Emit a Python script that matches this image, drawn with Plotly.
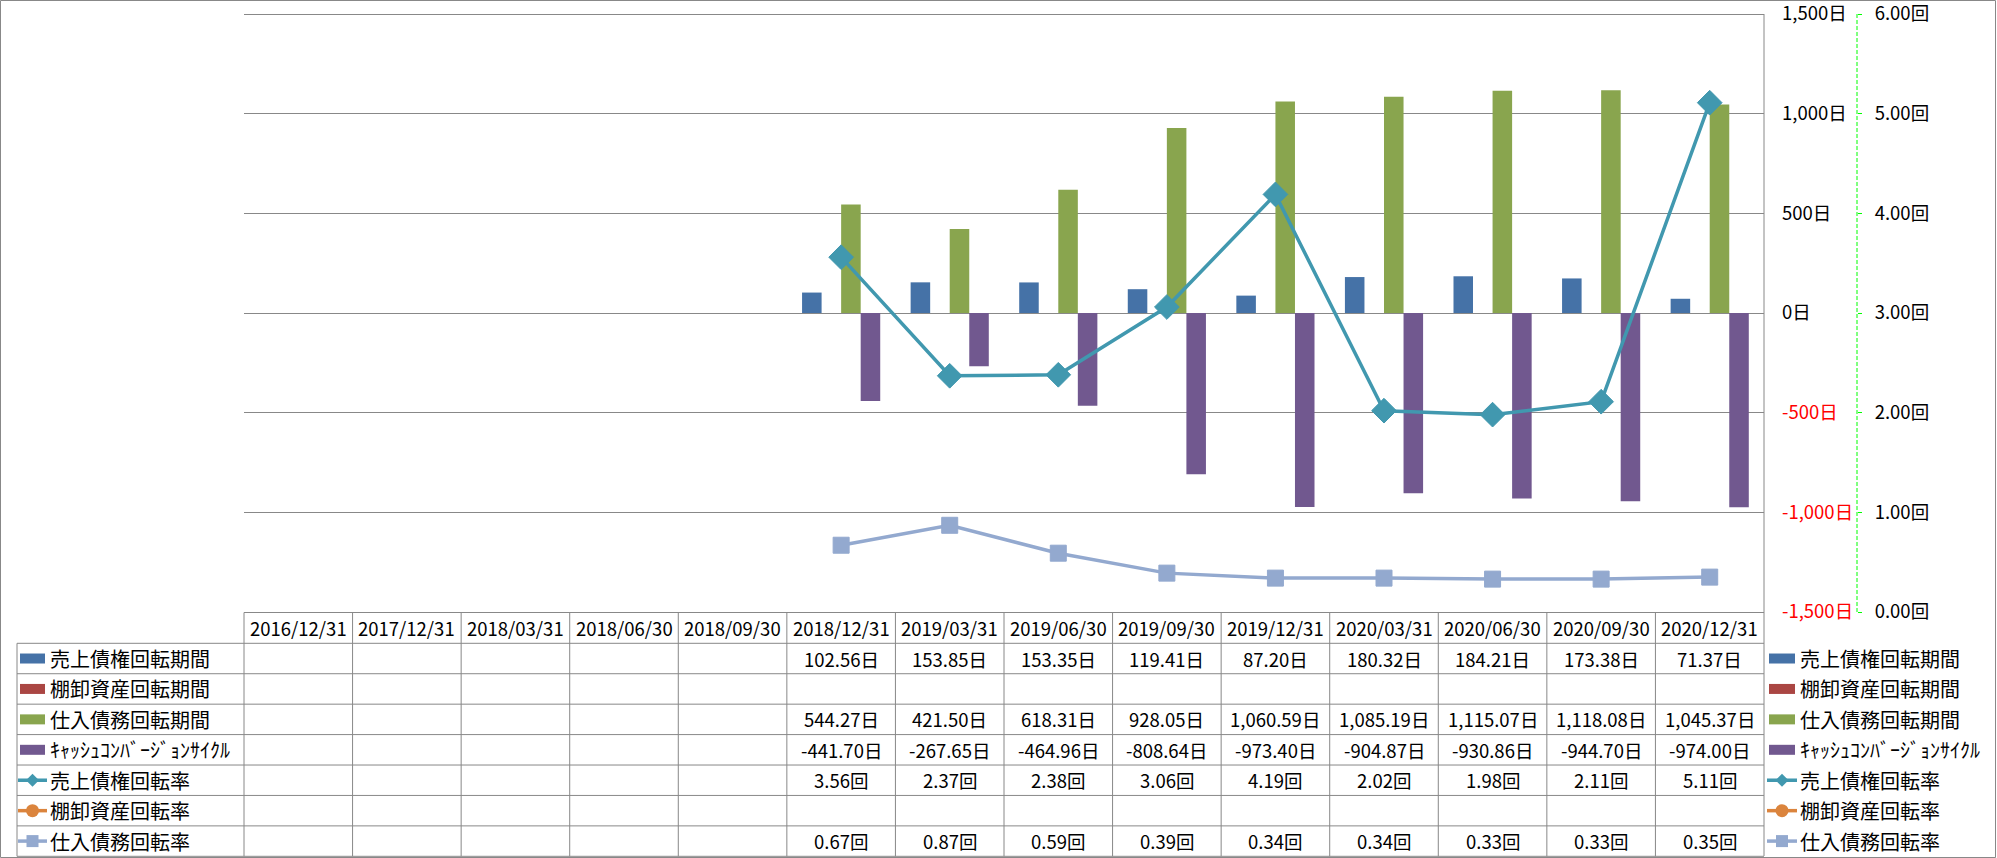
import plotly.graph_objects as go

W, H = 1997, 858
FONT = "Noto Sans CJK JP"

# ---------------- data ----------------
categories = ["2016/12/31", "2017/12/31", "2018/03/31", "2018/06/30", "2018/09/30",
              "2018/12/31", "2019/03/31", "2019/06/30", "2019/09/30", "2019/12/31",
              "2020/03/31", "2020/06/30", "2020/09/30", "2020/12/31"]
N = None
receivable_days = [N, N, N, N, N, 102.56, 153.85, 153.35, 119.41, 87.20, 180.32, 184.21, 173.38, 71.37]
inventory_days = [N] * 14
payable_days = [N, N, N, N, N, 544.27, 421.50, 618.31, 928.05, 1060.59, 1085.19, 1115.07, 1118.08, 1045.37]
ccc_days = [N, N, N, N, N, -441.70, -267.65, -464.96, -808.64, -973.40, -904.87, -930.86, -944.70, -974.00]
receivable_turnover = [N, N, N, N, N, 3.56, 2.37, 2.38, 3.06, 4.19, 2.02, 1.98, 2.11, 5.11]
inventory_turnover = [N] * 14
payable_turnover = [N, N, N, N, N, 0.67, 0.87, 0.59, 0.39, 0.34, 0.34, 0.33, 0.33, 0.35]

day_ticks = [-1500, -1000, -500, 0, 500, 1000, 1500]
rate_ticks = [0, 1, 2, 3, 4, 5, 6]

series = [
    dict(name="売上債権回転期間", values=receivable_days, kind="bar", color="#4572A7", unit="日"),
    dict(name="棚卸資産回転期間", values=inventory_days, kind="bar", color="#AA4643", unit="日"),
    dict(name="仕入債務回転期間", values=payable_days, kind="bar", color="#89A54E", unit="日"),
    dict(name="ｷｬｯｼｭｺﾝﾊﾞｰｼﾞｮﾝｻｲｸﾙ", values=ccc_days, kind="bar", color="#71588F", unit="日"),
    dict(name="売上債権回転率", values=receivable_turnover, kind="line", color="#4198AF",
         symbol="diamond", unit="回"),
    dict(name="棚卸資産回転率", values=inventory_turnover, kind="line", color="#DB843D",
         symbol="circle", unit="回"),
    dict(name="仕入債務回転率", values=payable_turnover, kind="line", color="#93A9CF",
         symbol="square", unit="回"),
]

# ---------------- geometry (pixels) ----------------
PLOT_L, PLOT_R, PLOT_T, PLOT_B = 244, 1764, 14, 612
AXIS2_X = 1857
HEAD_T, HEAD_B = 612.5, 643.3
ROW_H = 30.43
LABEL_L = 17
GRID = "#888888"
BAR_W = 0.18
bar_offsets = [-0.36, -0.18, 0.0, 0.18]
NUM_SIZE = 18.5
JP_SIZE = 20
D_MIN, D_MAX = day_ticks[0], day_ticks[-1]
R_MIN, R_MAX = rate_ticks[0], rate_ticks[-1]
PAD_PX = 3.0    # extra pixels beyond the end ticks so they are not clipped
PPD = (PLOT_B - PLOT_T) / (D_MAX - D_MIN)
EPS_D = PAD_PX / PPD
EPS_R = EPS_D * (R_MAX - R_MIN) / (D_MAX - D_MIN)


def fx(x):
    return x / W


def fy(y):
    return 1 - y / H


fig = go.Figure()

bi = 0
for s in series:
    if s["kind"] == "bar":
        fig.add_trace(go.Bar(
            x=categories, y=s["values"], name=s["name"], marker_color=s["color"],
            marker_line_width=0, width=BAR_W, offset=bar_offsets[bi],
            showlegend=False, xaxis="x", yaxis="y"))
        bi += 1
for s in series:
    if s["kind"] == "line":
        big = s["symbol"] == "diamond"
        fig.add_trace(go.Scatter(
            x=categories, y=s["values"], name=s["name"], mode="lines+markers",
            line=dict(color=s["color"], width=3.5),
            marker=dict(symbol=s["symbol"], size=19 if big else 16, color=s["color"],
                        line=dict(width=1, color=s["color"])),
            connectgaps=False, showlegend=False, xaxis="x", yaxis="y2"))


def day_label(v):
    t = f"{v:,}日"
    if v < 0:
        return f'<span style="color:#FF0000">{t}</span>'
    return t


shapes = []
annotations = []

# outer border
shapes.append(dict(type="rect", xref="paper", yref="paper", x0=fx(0.5), x1=fx(W - 1.5),
                   y0=fy(0.5), y1=fy(H - 0.5), line=dict(color=GRID, width=1)))
# right border of plot + table
shapes.append(dict(type="line", xref="paper", yref="paper", x0=fx(PLOT_R), x1=fx(PLOT_R),
                   y0=fy(PLOT_T), y1=fy(856), line=dict(color=GRID, width=1)))
# secondary axis dashed line
shapes.append(dict(type="line", xref="paper", yref="paper", x0=fx(AXIS2_X), x1=fx(AXIS2_X),
                   y0=fy(PLOT_T), y1=fy(PLOT_B), line=dict(color="#00FF00", width=1, dash="4px,2px")))

ncol = len(categories)
colw = (PLOT_R - PLOT_L) / ncol
nrows = len(series)
TABLE_B = HEAD_B + nrows * ROW_H

# table horizontal lines
shapes.append(dict(type="line", xref="paper", yref="paper", x0=fx(PLOT_L), x1=fx(PLOT_R),
                   y0=fy(HEAD_T), y1=fy(HEAD_T), line=dict(color=GRID, width=1)))
for r in range(nrows + 1):
    y = HEAD_B + r * ROW_H
    shapes.append(dict(type="line", xref="paper", yref="paper", x0=fx(LABEL_L), x1=fx(PLOT_R),
                       y0=fy(y), y1=fy(y), line=dict(color=GRID, width=1)))
# table vertical lines
shapes.append(dict(type="line", xref="paper", yref="paper", x0=fx(LABEL_L), x1=fx(LABEL_L),
                   y0=fy(HEAD_B), y1=fy(TABLE_B), line=dict(color=GRID, width=1)))
for c in range(ncol):
    x = PLOT_L + c * colw
    shapes.append(dict(type="line", xref="paper", yref="paper", x0=fx(x), x1=fx(x),
                       y0=fy(HEAD_T), y1=fy(TABLE_B), line=dict(color=GRID, width=1)))

# header text
for c, cat in enumerate(categories):
    annotations.append(dict(xref="paper", yref="paper", x=fx(PLOT_L + (c + 0.5) * colw),
                            y=fy((HEAD_T + HEAD_B) / 2), text=cat, showarrow=False,
                            xanchor="center", yanchor="middle",
                            font=dict(family=FONT, size=NUM_SIZE, color="#000")))


def legend_symbol(s, x0, x1, yc):
    out = []
    if s["kind"] == "bar":
        out.append(dict(type="rect", xref="paper", yref="paper", x0=fx(x0), x1=fx(x1),
                        y0=fy(yc - 5), y1=fy(yc + 5), fillcolor=s["color"], line=dict(width=0)))
    else:
        out.append(dict(type="line", xref="paper", yref="paper", x0=fx(x0 - 2), x1=fx(x1 + 2),
                        y0=fy(yc), y1=fy(yc), line=dict(color=s["color"], width=3.5)))
        xc = (x0 + x1) / 2
        r = 6.5
        if s["symbol"] == "diamond":
            path = (f"M {fx(xc - r)},{fy(yc)} L {fx(xc)},{fy(yc - r)} L {fx(xc + r)},{fy(yc)} "
                    f"L {fx(xc)},{fy(yc + r)} Z")
            out.append(dict(type="path", xref="paper", yref="paper", path=path,
                            fillcolor=s["color"], line=dict(width=0)))
        elif s["symbol"] == "circle":
            out.append(dict(type="circle", xref="paper", yref="paper", x0=fx(xc - r), x1=fx(xc + r),
                            y0=fy(yc - r), y1=fy(yc + r), fillcolor=s["color"], line=dict(width=0)))
        else:
            out.append(dict(type="rect", xref="paper", yref="paper", x0=fx(xc - 6), x1=fx(xc + 6),
                            y0=fy(yc - 6), y1=fy(yc + 6), fillcolor=s["color"], line=dict(width=0)))
    return out


for r, s in enumerate(series):
    yc = HEAD_B + (r + 0.5) * ROW_H
    # left legend (table row label)
    shapes.extend(legend_symbol(s, 20, 45, yc))
    annotations.append(dict(xref="paper", yref="paper", x=fx(48), y=fy(yc), text=s["name"],
                            showarrow=False, xanchor="left", yanchor="middle",
                            font=dict(family=FONT, size=JP_SIZE, color="#000")))
    # right legend
    shapes.extend(legend_symbol(s, 1769, 1795, yc))
    annotations.append(dict(xref="paper", yref="paper", x=fx(1798), y=fy(yc), text=s["name"],
                            showarrow=False, xanchor="left", yanchor="middle",
                            font=dict(family=FONT, size=JP_SIZE, color="#000")))
    # values
    for c, v in enumerate(s["values"]):
        if v is None:
            continue
        annotations.append(dict(xref="paper", yref="paper", x=fx(PLOT_L + (c + 0.5) * colw),
                                y=fy(yc), text=f"{v:,.2f}{s['unit']}", showarrow=False,
                                xanchor="center", yanchor="middle",
                                font=dict(family=FONT, size=NUM_SIZE, color="#000")))

fig.update_layout(
    width=W, height=H,
    margin=dict(l=0, r=0, t=0, b=0, autoexpand=False),
    paper_bgcolor="white", plot_bgcolor="white",
    barmode="overlay",
    showlegend=False,
    font=dict(family=FONT, size=NUM_SIZE, color="#000"),
    xaxis=dict(domain=[fx(PLOT_L), fx(PLOT_R)], type="category", categoryorder="array",
               categoryarray=categories, range=[-0.5, ncol - 0.5], showticklabels=False,
               showgrid=False, zeroline=False, showline=False, ticks="", automargin=False),
    yaxis=dict(domain=[fy(PLOT_B + PAD_PX), fy(PLOT_T - PAD_PX)],
               range=[D_MIN - EPS_D, D_MAX + EPS_D],
               side="right", automargin=False,
               tickvals=day_ticks, ticktext=[day_label(v) for v in day_ticks],
               showgrid=True, gridcolor=GRID, gridwidth=1, zeroline=False, showline=False,
               ticks="", ticklabelstandoff=17, ticklabeloverflow="allow",
               tickfont=dict(family=FONT, size=NUM_SIZE, color="#000")),
    yaxis2=dict(overlaying="y", anchor="free", position=fx(AXIS2_X), side="right",
                automargin=False,
                range=[R_MIN - EPS_R, R_MAX + EPS_R], tickvals=rate_ticks,
                ticktext=[f"{v:.2f}回" for v in rate_ticks],
                showgrid=False, zeroline=False, showline=False, ticks="outside", ticklen=4,
                tickcolor="#00FF00", tickwidth=1, ticklabelstandoff=9, ticklabeloverflow="allow",
                tickfont=dict(family=FONT, size=NUM_SIZE, color="#000")),
    shapes=shapes,
    annotations=annotations,
)

fig.write_html("out.html")
